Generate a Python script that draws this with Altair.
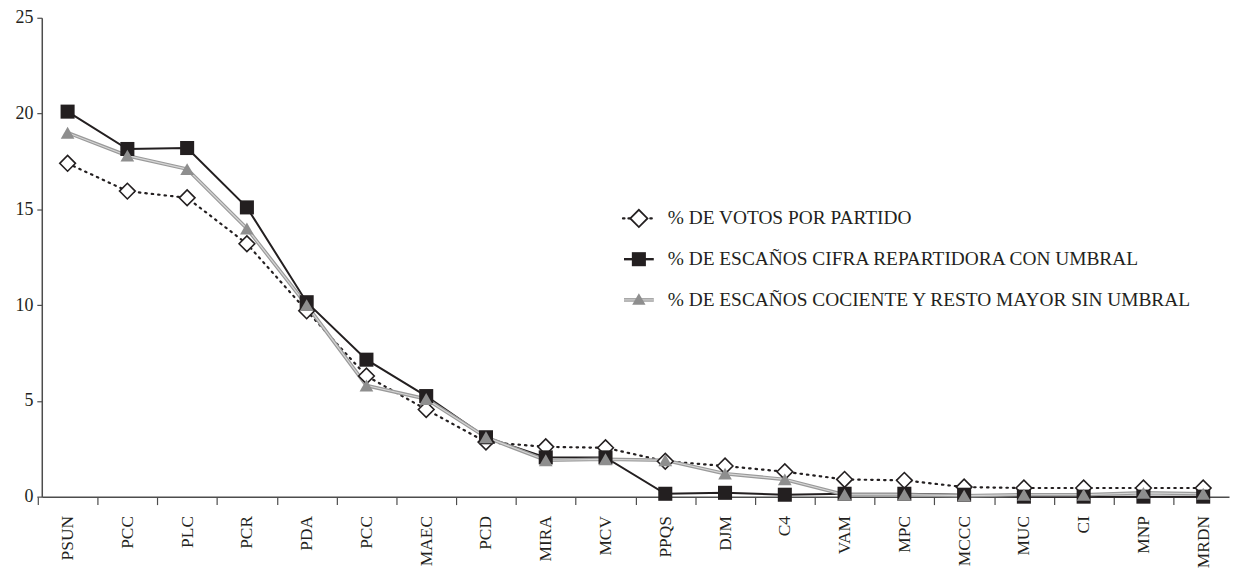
import altair as alt
import pandas as pd

# ---------------- data ----------------
partidos = ["PSUN", "PCC", "PLC", "PCR", "PDA", "PCC", "MAEC", "PCD", "MIRA", "MCV",
            "PPQS", "DJM", "C4", "VAM", "MPC", "MCCC", "MUC", "CI", "MNP", "MRDN"]
votos = [17.4, 15.95, 15.6, 13.2, 9.7, 6.3, 4.55, 2.85, 2.6, 2.55,
         1.85, 1.6, 1.3, 0.9, 0.85, 0.5, 0.45, 0.45, 0.45, 0.45]
cifra = [20.1, 18.15, 18.2, 15.1, 10.15, 7.15, 5.25, 3.1, 2.05, 2.05,
         0.15, 0.2, 0.1, 0.15, 0.15, 0.1, 0.0, 0.0, 0.0, 0.0]
cociente = [19.0, 17.8, 17.1, 14.0, 10.0, 5.8, 5.1, 3.1, 1.9, 1.95,
            1.9, 1.2, 0.9, 0.1, 0.1, 0.05, 0.1, 0.1, 0.2, 0.15]
series = ["% DE VOTOS POR PARTIDO",
          "% DE ESCAÑOS CIFRA REPARTIDORA CON UMBRAL",
          "% DE ESCAÑOS COCIENTE Y RESTO MAYOR SIN UMBRAL"]
y_ticks = [0, 5, 10, 15, 20, 25]

rows = []
for s, vals in zip(series, [votos, cifra, cociente]):
    for i, (p, v) in enumerate(zip(partidos, vals)):
        rows.append({"idx": i, "partido": p, "serie": s, "valor": v})
df = pd.DataFrame(rows)

label_expr = "[" + ",".join(f"'{p}'" for p in partidos) + "][datum.value]"

W, H = 1195, 482
FONT = "Liberation Serif"
INK = "#231f20"
GRAY = "#8e8e8e"
AXC = "#4d4d4d"

x = alt.X("idx:O",
          scale=alt.Scale(type="point", padding=0.432),
          axis=alt.Axis(title=None, labelExpr=label_expr, labelAngle=-90,
                        tickOffset=-30, labelOffset=30, tickSize=8, labelPadding=11,
                        labelFontSize=17.5, domainColor=AXC, tickColor=AXC,
                        domainWidth=1.5, tickWidth=1.2))
y = alt.Y("valor:Q",
          scale=alt.Scale(domain=[0, 25], nice=False),
          axis=alt.Axis(title=None, values=y_ticks, grid=False, tickSize=5,
                        labelFontSize=18, labelPadding=4, domainColor=AXC,
                        tickColor=AXC, domainWidth=1.5, tickWidth=1.2))

base = alt.Chart(df).encode(x=x, y=y)

def sel(i):
    return base.transform_filter(alt.datum.serie == series[i])

votos_line = sel(0).mark_line(color=INK, strokeWidth=2.2, strokeDash=[1.5, 5], strokeCap="round")
votos_pts = sel(0).mark_point(shape="diamond", filled=True, fill="white", stroke=INK,
                              strokeWidth=1.6, size=250, opacity=1)
cifra_line = sel(1).mark_line(color=INK, strokeWidth=2)
cifra_pts = sel(1).mark_point(shape="square", filled=True, color=INK, size=200, opacity=1)
coc_line1 = sel(2).mark_line(color="#9a9a9a", strokeWidth=3.6)
coc_line2 = sel(2).mark_line(color="#d6d6d6", strokeWidth=1.2)
coc_pts = sel(2).mark_point(shape="triangle-up", filled=True, color=GRAY, size=190, opacity=1)

# ---------------- legend (manual) ----------------
leg_rows = [202, 243, 284]
sym_x, txt_x = 601, 630
legend_layers = []
for i, s in enumerate(series):
    one = alt.Chart(pd.DataFrame({"serie": [s]}))
    yy = leg_rows[i]
    if i == 0:
        legend_layers.append(one.mark_rule(color=INK, strokeWidth=2.2, strokeDash=[1.5, 4], strokeCap="round").encode(
            x=alt.value(sym_x - 16), x2=alt.value(sym_x + 16), y=alt.value(yy)))
        legend_layers.append(one.mark_point(shape="diamond", filled=True, fill="white", stroke=INK,
                                            strokeWidth=1.8, size=300, opacity=1).encode(
            x=alt.value(sym_x), y=alt.value(yy)))
    elif i == 1:
        legend_layers.append(one.mark_rule(color=INK, strokeWidth=2.4).encode(
            x=alt.value(sym_x - 15), x2=alt.value(sym_x + 15), y=alt.value(yy)))
        legend_layers.append(one.mark_point(shape="square", filled=True, color=INK, size=200, opacity=1).encode(
            x=alt.value(sym_x), y=alt.value(yy)))
    else:
        legend_layers.append(one.mark_rule(color="#9a9a9a", strokeWidth=3.6).encode(
            x=alt.value(sym_x - 15), x2=alt.value(sym_x + 15), y=alt.value(yy)))
        legend_layers.append(one.mark_rule(color="#d6d6d6", strokeWidth=1.2).encode(
            x=alt.value(sym_x - 15), x2=alt.value(sym_x + 15), y=alt.value(yy)))
        legend_layers.append(one.mark_point(shape="triangle-up", filled=True, color=GRAY, size=180, opacity=1).encode(
            x=alt.value(sym_x), y=alt.value(yy - 1)))
    legend_layers.append(one.mark_text(align="left", baseline="middle", font=FONT, fontSize=19.5,
                                       color=INK).encode(
        x=alt.value(txt_x), y=alt.value(yy), text="serie:N"))

chart = alt.layer(
    votos_line, cifra_line, coc_line1, coc_line2,
    votos_pts, cifra_pts, coc_pts,
    *legend_layers
).properties(
    width=W, height=H,
    autosize=alt.AutoSizeParams(type="none"),
    padding={"left": 34, "top": 8, "right": 2, "bottom": 72},
    background="white",
).configure_view(stroke=None).configure_axis(
    labelFont=FONT, labelColor=INK
)

chart.save("out.html", embed_options={"renderer": "svg", "actions": False})
